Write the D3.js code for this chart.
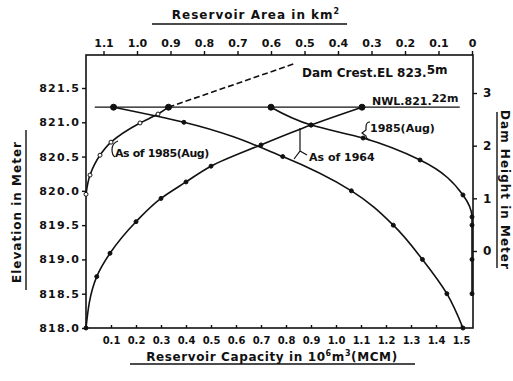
<!DOCTYPE html>
<html>
<head>
<meta charset="utf-8">
<script src="https://cdn.jsdelivr.net/npm/d3@7"></script>
<style>
  html, body { margin: 0; padding: 0; background: #fff; }
  svg text { font-family: "DejaVu Sans", "Liberation Sans", sans-serif; font-weight: bold; fill: #111; }
</style>
</head>
<body>
<svg id="chart" width="513" height="381"></svg>
<script>
// ticks
const elevTicks = [818.0, 818.5, 819.0, 819.5, 820.0, 820.5, 821.0, 821.5];
const capTicks = [0.1, 0.2, 0.3, 0.4, 0.5, 0.6, 0.7, 0.8, 0.9, 1.0, 1.1, 1.2, 1.3, 1.4, 1.5];
const areaTicks = [1.1, 1.0, 0.9, 0.8, 0.7, 0.6, 0.5, 0.4, 0.3, 0.2, 0.1, 0];
const damTicks = [0, 1, 2, 3];

// curves: [value, elevation]
const cap1964 = [[0, 818.0], [0.043, 818.75], [0.096, 819.09], [0.2, 819.55], [0.3, 819.89], [0.4, 820.13], [0.5, 820.36], [0.7, 820.67], [0.9, 820.96], [1.104, 821.22]];
const cap1985 = [[0, 819.95], [0.016, 820.23], [0.056, 820.52], [0.1, 820.71], [0.216, 820.99], [0.288, 821.12], [0.33, 821.22]];
const cap1985Ext = [[0.33, 821.22], [0.83, 821.85]];
const area1964 = [[1.07, 821.22], [0.86, 821.0], [0.565, 820.5], [0.36, 820.0], [0.235, 819.5], [0.148, 819.0], [0.075, 818.5], [0.027, 818.0]];
const area1985 = [[0.60, 821.22], [0.48, 820.96], [0.325, 820.77], [0.155, 820.45], [0.027, 819.94], [0, 819.62], [0, 819.5], [0, 819.0], [0, 818.5]];
const nwl = { elev: 821.22, from: 0.035, to: 1.495 };

const svg = d3.select('#chart');
const L = 86, R = 473, T = 55, B = 328;

const xCap = d3.scaleLinear().domain([0, 1.5]).range([L, 461]);
const xArea = d3.scaleLinear().domain([0, 1.1]).range([472, 103.5]);
const yElev = d3.scaleLinear().domain([818, 821.5]).range([B, 88]);
const yDam = d3.scaleLinear().domain([0, 3]).range([251, 93]);

// frame
svg.append('rect').attr('x', L).attr('y', T).attr('width', R - L).attr('height', B - T)
  .attr('fill', 'none').attr('stroke', '#111').attr('stroke-width', 1.6);

// left axis
const gl = svg.append('g').attr('transform', `translate(${L},0)`)
  .call(d3.axisLeft(yElev).tickValues(elevTicks).tickFormat(d3.format('.1f')).tickSize(4).tickPadding(2));
gl.select('.domain').remove();
gl.selectAll('text').attr('font-size', 11).attr('letter-spacing', 1.2).style('font-family', null);

// bottom axis
const gb = svg.append('g').attr('transform', `translate(0,${B})`)
  .call(d3.axisBottom(xCap).tickValues(capTicks).tickFormat(d3.format('.1f')).tickSize(-3).tickPadding(9));
gb.select('.domain').remove();
gb.selectAll('text').attr('font-size', 10).style('font-family', null);

// top axis
const gt = svg.append('g').attr('transform', `translate(0,${T})`)
  .call(d3.axisTop(xArea).tickValues(areaTicks).tickFormat(d => d === 0 ? '0' : d3.format('.1f')(d)).tickSize(4).tickPadding(4));
gt.select('.domain').remove();
gt.selectAll('text').attr('font-size', 11).style('font-family', null);

// right axis
const gr = svg.append('g').attr('transform', `translate(${R},0)`)
  .call(d3.axisRight(yDam).tickValues(damTicks).tickFormat(d3.format('d')).tickSize(4).tickPadding(6));
gr.select('.domain').remove();
gr.selectAll('text').attr('font-size', 12).style('font-family', null);

svg.selectAll('.tick line').attr('stroke', '#111').attr('stroke-width', 1.4);

// axis titles
svg.append('text').attr('x', 256).attr('y', 19).attr('text-anchor', 'middle').attr('font-size', 12).attr('letter-spacing', 1)
  .text('Reservoir Area in km').append('tspan').attr('dy', -5).attr('font-size', 8).text('2');
svg.append('line').attr('x1', 152).attr('x2', 347).attr('y1', 24).attr('y2', 24).attr('stroke', '#111').attr('stroke-width', 1.4);

const capTitle = svg.append('text').attr('x', 272).attr('y', 361).attr('text-anchor', 'middle').attr('font-size', 12).attr('letter-spacing', 0.6);
capTitle.append('tspan').text('Reservoir Capacity in 10');
capTitle.append('tspan').attr('dy', -5).attr('font-size', 8).text('6');
capTitle.append('tspan').attr('dy', 5).text('m');
capTitle.append('tspan').attr('dy', -5).attr('font-size', 8).text('3');
capTitle.append('tspan').attr('dy', 5).text('(MCM)');
svg.append('line').attr('x1', 130).attr('x2', 415).attr('y1', 364).attr('y2', 364).attr('stroke', '#111').attr('stroke-width', 1.4);

svg.append('text').attr('transform', 'translate(21,212) rotate(-90)').attr('text-anchor', 'middle')
  .attr('font-size', 12).attr('letter-spacing', 1).text('Elevation in Meter');
svg.append('line').attr('x1', 26).attr('x2', 26).attr('y1', 130).attr('y2', 290).attr('stroke', '#111').attr('stroke-width', 1.4);

svg.append('text').attr('transform', 'translate(501,190) rotate(90)').attr('text-anchor', 'middle')
  .attr('font-size', 12).attr('letter-spacing', 1).text('Dam Height in Meter');
svg.append('line').attr('x1', 497).attr('x2', 497).attr('y1', 112).attr('y2', 268).attr('stroke', '#111').attr('stroke-width', 1.4);

// NWL line
svg.append('line').attr('x1', xCap(nwl.from)).attr('x2', xCap(nwl.to)).attr('y1', yElev(nwl.elev)).attr('y2', yElev(nwl.elev))
  .attr('stroke', '#111').attr('stroke-width', 1.3);

// curves
const capLine = d3.line().x(d => xCap(d[0])).y(d => yElev(d[1])).curve(d3.curveMonotoneY);
const areaLine = d3.line().x(d => xArea(d[0])).y(d => yElev(d[1])).curve(d3.curveMonotoneY);

function curve(data, gen, filled, dash) {
  svg.append('path').attr('d', gen(data)).attr('fill', 'none').attr('stroke', '#111').attr('stroke-width', 1.6)
    .attr('stroke-dasharray', dash || null);
  if (dash) return;
  svg.append('g').selectAll('circle').data(data).join('circle')
    .attr('cx', d => gen === capLine ? xCap(d[0]) : xArea(d[0]))
    .attr('cy', d => yElev(d[1]))
    .attr('r', d => d[1] === nwl.elev ? 3 : 2)
    .attr('fill', d => (filled || d[1] === nwl.elev) ? '#111' : '#fff')
    .attr('stroke', '#111').attr('stroke-width', 1);
}
curve(cap1964, capLine, true);
curve(cap1985Ext, capLine, false, '6,3');
curve(cap1985, capLine, false);
curve(area1964, areaLine, true);
curve(area1985, areaLine, true);

// annotations
const dc = svg.append('text').attr('x', 302).attr('y', 77).attr('font-size', 12);
dc.append('tspan').text('Dam Crest.EL 823.');
dc.append('tspan').attr('dy', -3).text('5m');

const nw = svg.append('text').attr('x', 372).attr('y', 105).attr('font-size', 11);
nw.append('tspan').text('NWL.821.');
nw.append('tspan').attr('dy', -3).text('22m');

svg.append('text').attr('x', 370).attr('y', 132).attr('font-size', 11).text('1985(Aug)');
svg.append('path').attr('d', 'M370,122 Q366,122 366,127 L366,130 L362,133 L366,136 Q366,139 370,140')
  .attr('fill', 'none').attr('stroke', '#111').attr('stroke-width', 1.2);

svg.append('text').attr('x', 309).attr('y', 161).attr('font-size', 11).text('As of 1964');
svg.append('path').attr('d', 'M300,128 L300,151 L294,159 M300,151 L307,155')
  .attr('fill', 'none').attr('stroke', '#111').attr('stroke-width', 1.2);

svg.append('text').attr('x', 115).attr('y', 157).attr('font-size', 11).attr('letter-spacing', -0.4).text('As of 1985(Aug)');
svg.append('path').attr('d', 'M118,141 Q112,143 112,150 Q112,155 115,157')
  .attr('fill', 'none').attr('stroke', '#111').attr('stroke-width', 1.2);
</script>
</body>
</html>
